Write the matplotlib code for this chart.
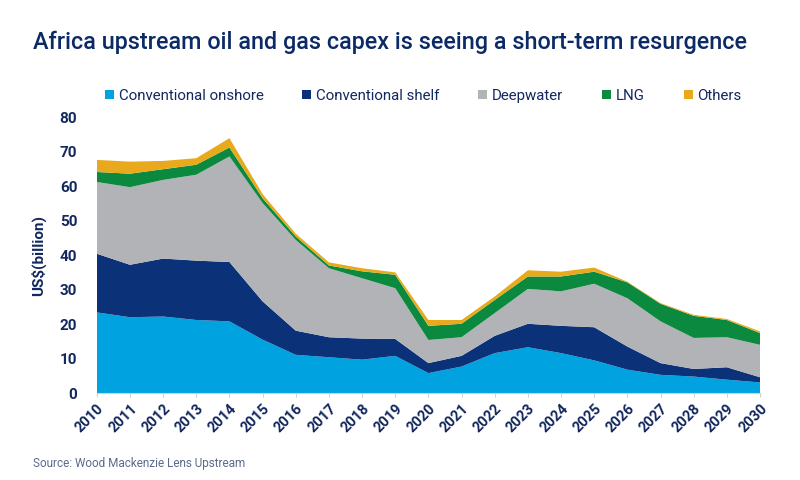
import matplotlib
matplotlib.use("Agg")
import matplotlib.pyplot as plt
from matplotlib.patches import Patch

plt.rcParams['font.family'] = ['Roboto', 'DejaVu Sans']

years = list(range(2010, 2031))
onshore = [23.4, 22.0, 22.2, 21.2, 20.8, 15.5, 11.1, 10.4, 9.7, 10.8, 5.8,
           7.7, 11.6, 13.3, 11.6, 9.5, 6.8, 5.3, 4.8, 3.9, 3.1]
shelf = [17.0, 15.2, 16.8, 17.2, 17.2, 11.1, 7.0, 5.8, 6.1, 4.9, 2.9,
         3.1, 5.0, 6.8, 7.9, 9.6, 6.7, 3.4, 2.2, 3.6, 1.5]
deepwater = [20.8, 22.5, 22.8, 24.9, 30.6, 28.5, 26.3, 20.0, 17.5, 14.7, 6.7,
             5.4, 6.6, 10.1, 10.0, 12.6, 14.0, 12.1, 9.0, 8.7, 9.4]
lng = [2.9, 3.9, 3.1, 2.9, 2.6, 1.4, 1.0, 0.8, 2.0, 3.9, 4.1,
       3.9, 3.8, 3.6, 4.3, 3.5, 4.6, 5.1, 6.4, 5.0, 3.4]
others = [3.5, 3.5, 2.4, 1.9, 2.7, 1.2, 0.8, 0.9, 0.9, 0.7, 1.7,
          1.1, 1.0, 1.8, 1.4, 1.2, 0.2, 0.2, 0.3, 0.3, 0.5]

labels = ["Conventional onshore", "Conventional shelf", "Deepwater", "LNG", "Others"]
colors = ["#00a3e0", "#0b3279", "#b1b3b6", "#0b8a3f", "#e8aa1c"]
navy = "#13285e"

fig = plt.figure(figsize=(8, 4.8), dpi=100)
ax = fig.add_axes([0.121, 0.181, 0.829, 0.575])

ax.stackplot(years, onshore, shelf, deepwater, lng, others, colors=colors, linewidth=0)

ax.set_xlim(2010, 2030)
ax.set_ylim(0, 80)
ax.set_yticks(range(0, 81, 10))
ax.set_xticks(years)
ax.set_xticklabels([str(y) for y in years], rotation=45, ha="right", va="top",
                   rotation_mode="anchor")
ax.tick_params(axis="x", length=3, color="#d0d0d0", labelsize=10.5, labelcolor=navy, pad=3)
ax.tick_params(axis="y", length=0, labelsize=11, labelcolor=navy, pad=14)
for lab in ax.get_xticklabels() + ax.get_yticklabels():
    lab.set_fontweight("bold")

for s in ["top", "right", "left"]:
    ax.spines[s].set_visible(False)
ax.spines["bottom"].set_color("#d0d0d0")
ax.spines["bottom"].set_linewidth(0.8)

ax.set_ylabel("US$(billion)", fontsize=11, color=navy, fontweight="bold", labelpad=10)

fig.text(0.041, 0.912, "Africa upstream oil and gas capex is seeing a short-term resurgence",
         fontsize=16.8, color="#0c2a66", fontweight="medium", va="center")

handles = [Patch(facecolor=c, edgecolor="none") for c in colors]
fig.legend(handles, labels, loc="center", bbox_to_anchor=(0.529, 0.8), ncol=5,
           frameon=False, fontsize=10.8, labelcolor=navy, handlelength=0.6,
           handleheight=0.6, handletextpad=0.3, columnspacing=2.6)

fig.text(0.041, 0.035, "Source: Wood Mackenzie Lens Upstream", fontsize=8.5,
         color="#5b6b8c", va="center")

fig.savefig("out.png", dpi=100)
